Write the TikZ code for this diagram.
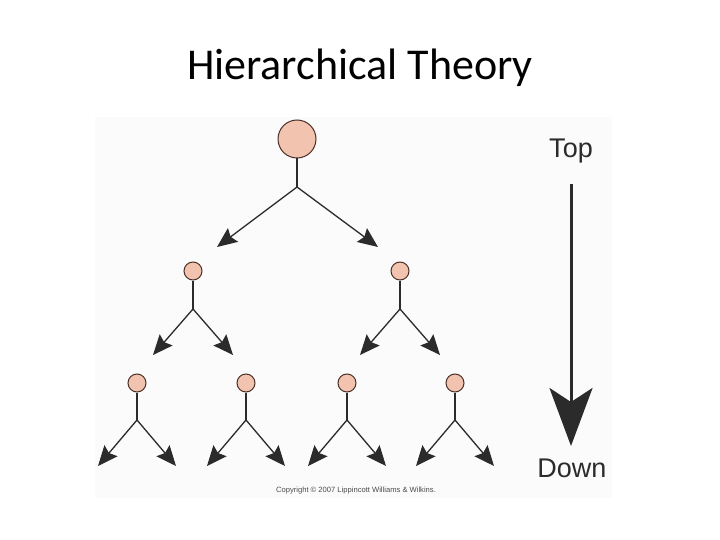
\documentclass[tikz,border=0pt]{standalone}
\usepackage{fontspec}
\setmainfont{Carlito}
\newfontfamily\arialf{Liberation Sans}
\usetikzlibrary{arrows.meta}
\definecolor{peach}{HTML}{F2C3AE}
\definecolor{rimc}{HTML}{4A3028}
\definecolor{inkc}{HTML}{2B2B2B}
\definecolor{panel}{HTML}{FBFBFB}
\tikzset{
  bigdot/.style={circle, draw=rimc, line width=1pt, fill=peach, minimum size=38pt, inner sep=0pt},
  smalldot/.style={circle, draw=rimc, line width=1pt, fill=peach, minimum size=18pt, inner sep=0pt},
  stem/.style={draw=inkc, line width=1.3pt},
  branch/.style={draw=inkc, line width=1.3pt, -{Stealth[length=20pt, width=17pt, inset=3pt]}},
  bigarrow/.style={draw=inkc, line width=3pt, -{Stealth[length=58pt, width=43pt, inset=14pt]}},
  sidelabel/.style={font=\arialf\fontsize{27}{30}\selectfont, text=inkc, inner sep=0pt}
}
\begin{document}
\begin{tikzpicture}[x=1pt, y=-1pt]
\useasboundingbox (0,0) rectangle (720,540);
\fill[white] (0,0) rectangle (720,540);
\fill[panel] (95,117) rectangle (612,498);
\node[font=\fontsize{44}{52}\selectfont, inner sep=0pt] (title) at (360,68) {Hierarchical Theory};

% top level
\node[bigdot] (n0) at (297,139) {};
\coordinate (s0) at (297,187);
\coordinate (t0a) at (217,247);
\coordinate (t0b) at (378,247);
\draw[stem] (n0.south) -- (s0);
\draw[branch] (s0) -- (t0a);
\draw[branch] (s0) -- (t0b);

% level 2
\foreach \name/\x in {n1/193, n2/400} {
  \node[smalldot] (\name) at (\x,271) {};
  \coordinate (\name s) at (\x,309);
  \coordinate (\name a) at (\x-40,355);
  \coordinate (\name b) at (\x+40,355);
  \draw[stem] (\name.south) -- (\name s);
  \draw[branch] (\name s) -- (\name a);
  \draw[branch] (\name s) -- (\name b);
}

% level 3
\foreach \name/\x in {m1/137, m2/246, m3/347, m4/455} {
  \node[smalldot] (\name) at (\x,383) {};
  \coordinate (\name s) at (\x,420);
  \coordinate (\name a) at (\x-39,466);
  \coordinate (\name b) at (\x+39,466);
  \draw[stem] (\name.south) -- (\name s);
  \draw[branch] (\name s) -- (\name a);
  \draw[branch] (\name s) -- (\name b);
}

% right arrow
\node[sidelabel] (top) at (571,151) {Top};
\node[sidelabel] (down) at (572,468) {Down};
\coordinate (ra) at (571,184);
\coordinate (rb) at (571,446);
\draw[bigarrow] (ra) -- (rb);

\node[font=\arialf\fontsize{7.6}{8}\selectfont, text=black!70, inner sep=0pt] (copy) at (356,491) {Copyright \textcopyright{} 2007 Lippincott Williams \& Wilkins.};
\end{tikzpicture}
\end{document}
